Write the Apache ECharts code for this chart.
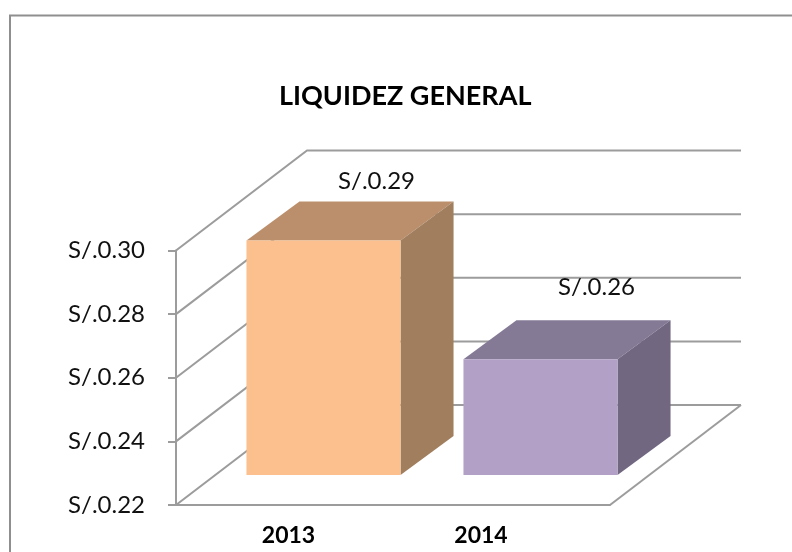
<!DOCTYPE html>
<html>
<head>
<meta charset="utf-8">
<style>
  html, body { margin: 0; padding: 0; background: #fff; }
  #chart { width: 792px; height: 552px; }
</style>
<script src="https://cdn.jsdelivr.net/npm/echarts@6/dist/echarts.min.js"></script>
</head>
<body>
<div id="chart"></div>
<script>
const categories = ["2013", "2014"];
const liquidez = [0.2937, 0.2564];
const yTicks = [0.22, 0.24, 0.26, 0.28, 0.3];
const frontColors = ["#fbc08e", "#b2a0c7"];
const topColors = ["#bc8f6c", "#857a96"];
const sideColors = ["#a07e5e", "#716781"];

// pseudo 3d offsets, in pixels
const wallDx = 131, wallDy = -100;
const barNearDx = 39, barNearDy = -30;
const barDepthDx = 53, barDepthDy = -39;
const barRatio = 0.71;
const labelLift = [20, 33];
const labelShift = [0, 3];
const lineColor = "#9c9c9c";
const font = "Lato";

const chart = echarts.init(document.getElementById("chart"));

function renderWall(params, api) {
  const grid = params.coordSys;
  const y = api.coord([0, api.value(0)])[1];
  const x0 = grid.x;
  const children = [{
    type: "polyline",
    shape: { points: [[x0, y], [x0 + wallDx, y + wallDy], [x0 + grid.width + wallDx, y + wallDy]] },
    style: { stroke: lineColor, lineWidth: 2, fill: null },
  }];
  // floor right edge only for the lowest tick
  if (params.dataIndex === 0) {
    children.push({
      type: "line",
      shape: { x1: x0 + grid.width, y1: y, x2: x0 + grid.width + wallDx, y2: y + wallDy },
      style: { stroke: lineColor, lineWidth: 2 },
    });
  }
  return { type: "group", children };
}

function renderBar(params, api) {
  const i = params.dataIndex;
  const top = api.coord([i, api.value(1)]);
  const base = api.coord([i, yTicks[0]]);
  const w = api.size([1, 0])[0] * barRatio;
  const l = top[0] - w / 2 + barNearDx;
  const r = l + w;
  const t = top[1] + barNearDy;
  const b = base[1] + barNearDy;
  const dx = barDepthDx, dy = barDepthDy;
  return {
    type: "group",
    children: [
      { type: "polygon", shape: { points: [[l, t], [r, t], [r + dx, t + dy], [l + dx, t + dy]] }, style: { fill: topColors[i] } },
      { type: "polygon", shape: { points: [[r, t], [r + dx, t + dy], [r + dx, b + dy], [r, b]] }, style: { fill: sideColors[i] } },
      { type: "rect", shape: { x: l, y: t, width: w, height: b - t }, style: { fill: frontColors[i] } },
      {
        type: "text",
        x: (l + r + dx * 2) / 2 + labelShift[i],
        y: t + dy - labelLift[i],
        style: {
          text: "S/." + api.value(1).toFixed(2),
          font: "24px " + font,
          fill: "#111",
          align: "center",
          verticalAlign: "middle",
        },
      },
    ],
  };
}

chart.setOption({
  animation: false,
  backgroundColor: "#fff",
  graphic: [{
    type: "polyline",
    shape: { points: [[10, 552], [10, 15.5], [792, 15.5]] },
    style: { stroke: "#8f8f8f", lineWidth: 2, fill: null },
  }],
  title: {
    text: "LIQUIDEZ GENERAL",
    left: 274,
    top: 78,
    textStyle: { fontFamily: font, fontWeight: "bold", fontSize: 27, color: "#000" },
  },
  grid: { left: 176, right: 182, top: 250.5, bottom: 47 },
  xAxis: {
    type: "category",
    data: categories,
    axisTick: { show: false },
    axisLine: { lineStyle: { color: lineColor, width: 2 } },
    axisLabel: {
      margin: 19,
      formatter: (v, i) => (i === 0 ? "{a|" + v + "}" : "{b|" + v + "}"),
      rich: {
        a: { fontFamily: font, fontWeight: "bold", fontSize: 23, color: "#000", padding: [0, 0, 0, 8] },
        b: { fontFamily: font, fontWeight: "bold", fontSize: 23, color: "#000", padding: [0, 41, 0, 0] },
      },
    },
  },
  yAxis: {
    type: "value",
    min: yTicks[0],
    max: yTicks[yTicks.length - 1],
    interval: 0.02,
    splitLine: { show: false },
    axisLine: { show: true, lineStyle: { color: lineColor, width: 2 } },
    axisTick: { show: true, length: 8, lineStyle: { color: lineColor, width: 2 } },
    axisLabel: {
      margin: 31,
      padding: [2, 0, 0, 0],
      fontFamily: font,
      fontSize: 24,
      color: "#111",
      formatter: (v) => "S/." + v.toFixed(2),
    },
  },
  series: [
    { type: "custom", renderItem: renderWall, data: yTicks.map((v) => [v]), encode: { y: 0 }, z: 1, silent: true },
    {
      type: "custom",
      renderItem: renderBar,
      data: liquidez.map((v, i) => [i, v]),
      encode: { x: 0, y: 1 },
      z: 2,
    },
  ],
});
</script>
</body>
</html>
